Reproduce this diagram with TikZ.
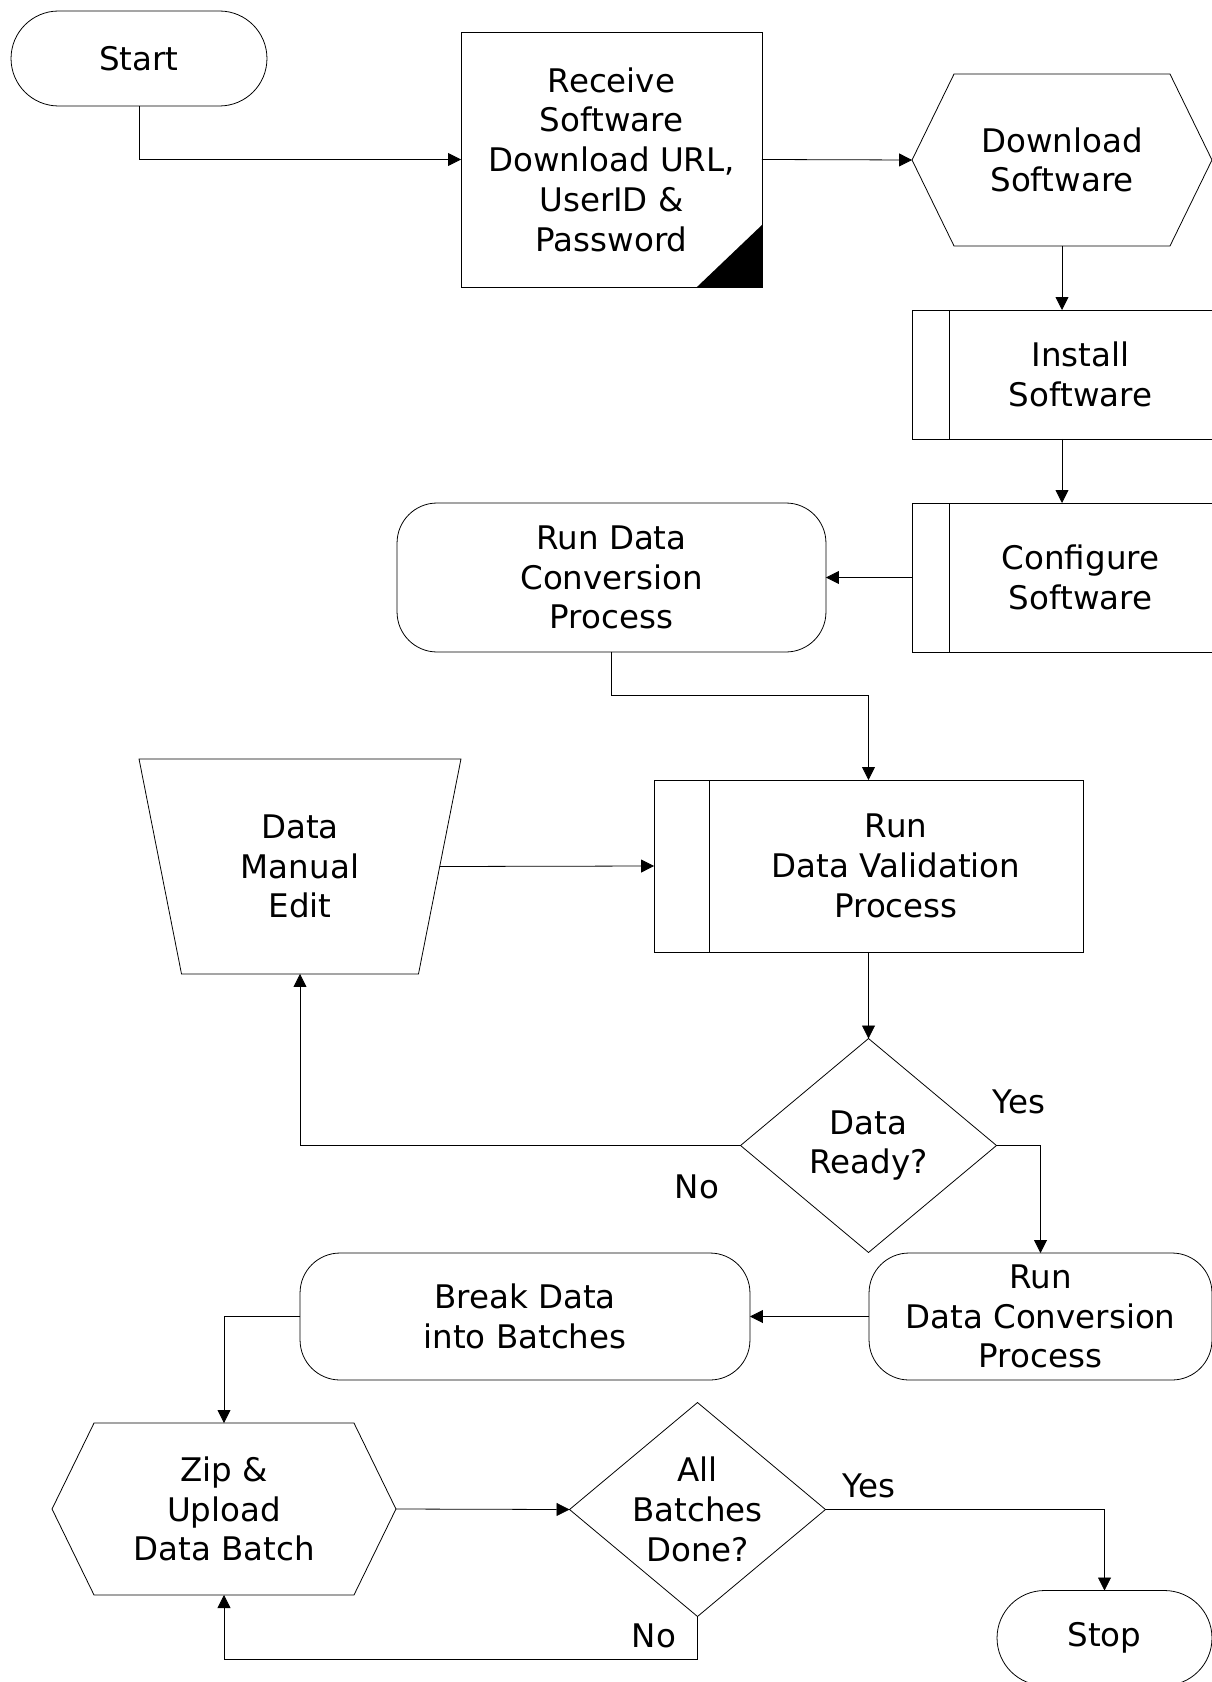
\documentclass[tikz,border=0pt]{standalone}
\usepackage{fontspec}
\setmainfont{DejaVu Sans}
\usetikzlibrary{shapes, arrows.meta, positioning}

\tikzset{
    every node/.style={align=center, font=\fontsize{18.5}{22.6}\selectfont, inner sep=0pt, outer sep=0pt},
    arr/.style={-{Triangle[length=0.26cm, width=0.26cm]}},
    term/.style={draw, rectangle, rounded corners=0.95cm, minimum width=#1, minimum height=1.9cm},
    roundbox/.style={draw, rectangle, rounded corners=0.8cm},
    subproc/.style={draw, path picture={\draw ([xshift=#1]path picture bounding box.north west) -- ([xshift=#1]path picture bounding box.south west);}},
    hexbox/.style={minimum width=#1, minimum height=3.44cm, append after command={\pgfextra{\pgfinterruptpath
        \draw (\tikzlastnode.west) -- ([xshift=0.84cm]\tikzlastnode.north west) -- ([xshift=-0.84cm]\tikzlastnode.north east) -- (\tikzlastnode.east) -- ([xshift=-0.84cm]\tikzlastnode.south east) -- ([xshift=0.84cm]\tikzlastnode.south west) -- cycle;
        \endpgfinterruptpath}}},
    manual/.style={minimum width=6.44cm, minimum height=4.3cm, append after command={\pgfextra{\pgfinterruptpath
        \draw (\tikzlastnode.north west) -- (\tikzlastnode.north east) -- ([xshift=-0.85cm]\tikzlastnode.south east) -- ([xshift=0.85cm]\tikzlastnode.south west) -- cycle;
        \endpgfinterruptpath}}},
    decide/.style={minimum width=5.12cm, minimum height=4.28cm, append after command={\pgfextra{\pgfinterruptpath
        \draw (\tikzlastnode.north) -- (\tikzlastnode.east) -- (\tikzlastnode.south) -- (\tikzlastnode.west) -- cycle;
        \endpgfinterruptpath}}}
}

\begin{document}
\begin{tikzpicture}[x=0.02cm, y=-0.02cm, line width=0.45pt]
    \path[use as bounding box, fill=white] (0,0) rectangle (1212,1682);

    \node[term=5.12cm] (start) at (139,58.5) {Start};
    \node[draw, minimum width=6.02cm, minimum height=5.1cm,
        path picture={\fill ([xshift=-1.3cm]path picture bounding box.south east) -- (path picture bounding box.south east) -- ([yshift=1.24cm]path picture bounding box.south east) -- cycle;}]
        (recv) at (611.5,159.5) {Receive\\Software\\Download URL,\\UserID \&\\Password};
    \node[hexbox=6cm] (dl) at (1062,160) {Download\\Software};
    \node[subproc=0.74cm, minimum width=6cm, minimum height=2.58cm, label={[xshift=0.37cm]center:{Install\\Software}}] (inst) at (1062,374.5) {};
    \node[subproc=0.74cm, minimum width=6cm, minimum height=2.98cm, label={[xshift=0.37cm]center:{Configure\\Software}}] (conf) at (1062,577.5) {};
    \node[roundbox, minimum width=8.58cm, minimum height=2.98cm] (rdc) at (611.5,577.5) {Run Data\\Conversion\\Process};
    \node[subproc=1.1cm, minimum width=8.58cm, minimum height=3.44cm, label={[xshift=0.55cm]center:{Run\\Data Validation\\Process}}] (val) at (868.5,866) {};
    \node[manual] (edit) at (300,866.5) {Data\\Manual\\Edit};
    \node[decide] (rdy) at (868.5,1145.5) {Data\\Ready?};
    \node[roundbox, minimum width=6.86cm, minimum height=2.54cm] (rdc2) at (1040.5,1316.5) {Run\\Data Conversion\\Process};
    \node[roundbox, minimum width=9cm, minimum height=2.54cm] (brk) at (525,1316.5) {Break Data\\into Batches};
    \node[hexbox=6.88cm] (zip) at (224,1509) {Zip \&\\Upload\\Data Batch};
    \node[decide] (done) at (697.5,1509.5) {All\\Batches\\Done?};
    \node[term=4.3cm] (stop) at (1104.5,1638) {Stop};

    \node (yes1) at (1019,1102) {Yes};
    \node (no1) at (697,1187) {No};
    \node (yes2) at (869,1486) {Yes};
    \node (no2) at (654,1636) {No};

    \draw[arr] (start.south) |- (recv.west);
    \draw[arr] (recv.east) -- (dl.west);
    \draw[arr] (dl.south) -- (inst.north);
    \draw[arr] (inst.south) -- (conf.north);
    \draw[arr] (conf.west) -- (rdc.east);
    \draw[arr] (rdc.south) -- ++(0,43) -| (val.north);
    \draw[arr] ([xshift=-0.425cm]edit.east) -- (val.west);
    \draw[arr] (val.south) -- (rdy.north);
    \draw[arr] (rdy.west) -| (edit.south);
    \draw[arr] (rdy.east) -| (rdc2.north);
    \draw[arr] (rdc2.west) -- (brk.east);
    \draw[arr] (brk.west) -| (zip.north);
    \draw[arr] (zip.east) -- (done.west);
    \draw[arr] (done.east) -| (stop.north);
    \draw[arr] (done.south) -- ++(0,43) -| (zip.south);
\end{tikzpicture}
\end{document}
